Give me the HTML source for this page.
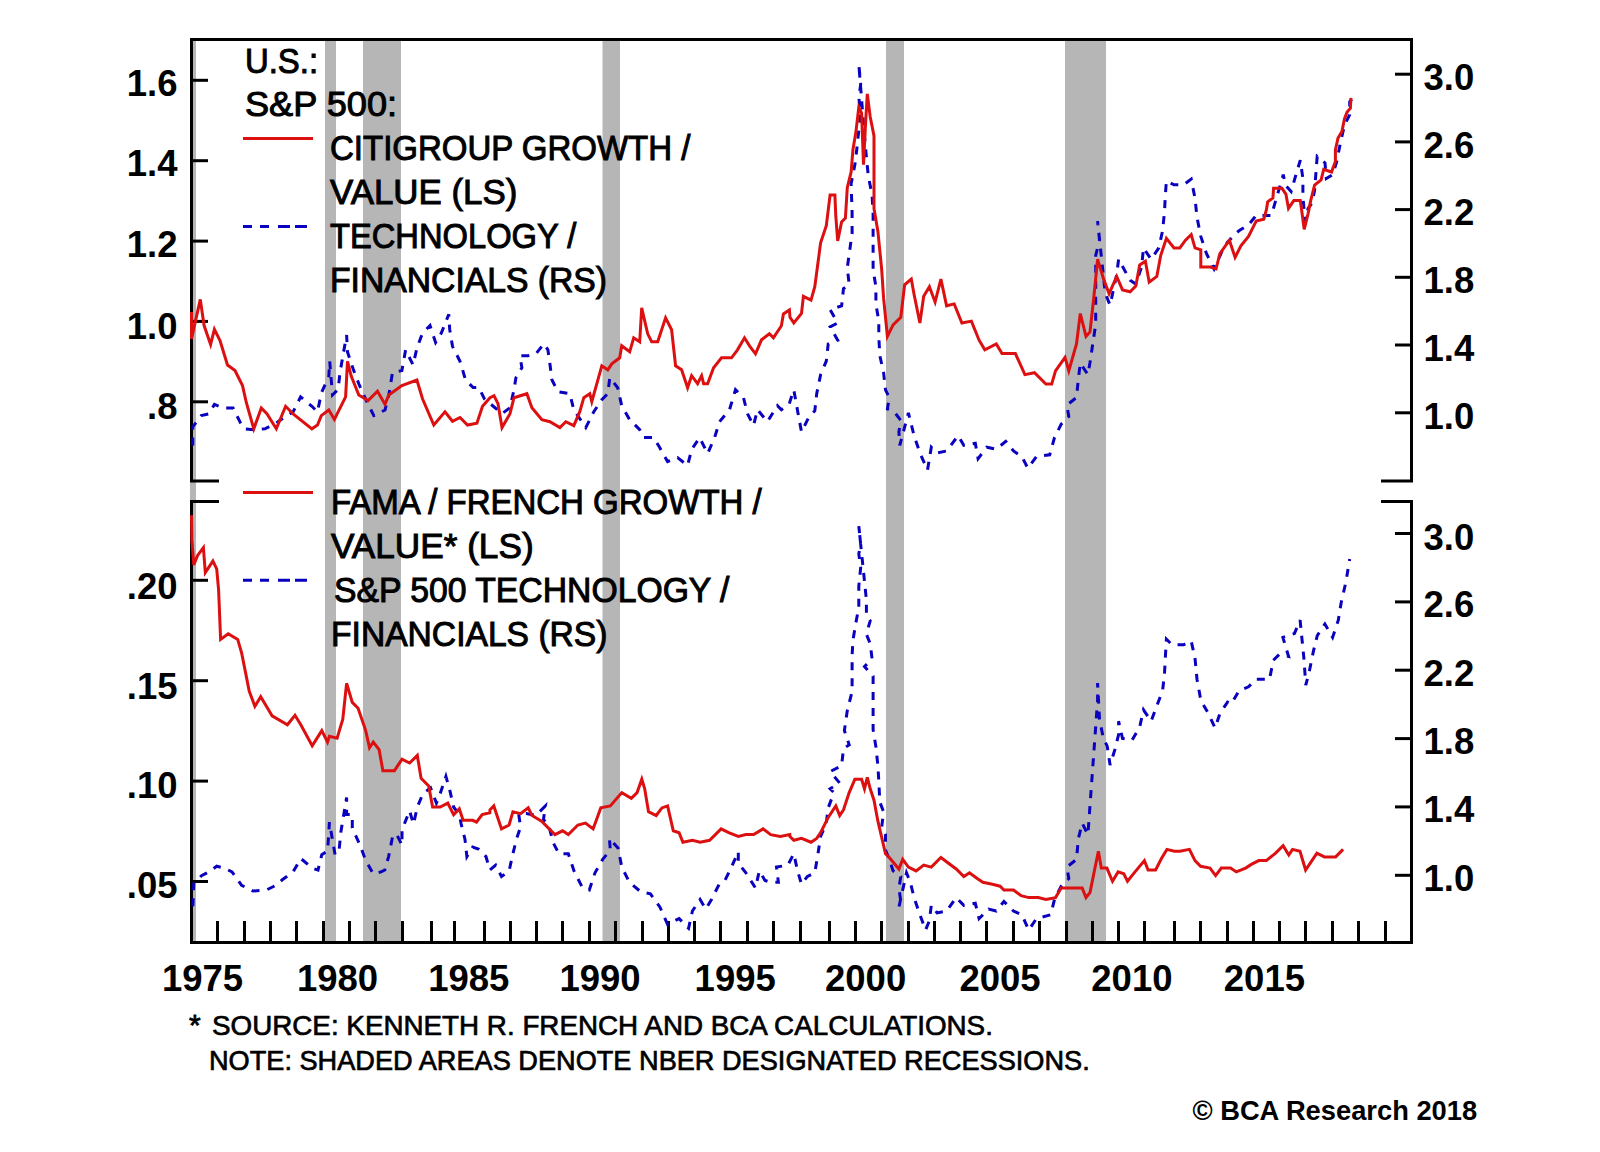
<!DOCTYPE html>
<html><head><meta charset="utf-8"><style>
html,body{margin:0;padding:0;background:#fff;width:1600px;height:1152px;overflow:hidden}
svg{position:absolute;left:0;top:0}
text{font-family:"Liberation Sans",sans-serif;fill:#000}
</style></head><body>
<svg width="1600" height="1152" viewBox="0 0 1600 1152">
<rect x="190" y="40" width="6.0" height="902" fill="#b6b6b6"/>
<rect x="325" y="40" width="11.0" height="902" fill="#b6b6b6"/>
<rect x="363" y="40" width="38.0" height="902" fill="#b6b6b6"/>
<rect x="602.5" y="40" width="17.5" height="902" fill="#b6b6b6"/>
<rect x="886" y="40" width="18.0" height="902" fill="#b6b6b6"/>
<rect x="1065" y="40" width="41.0" height="902" fill="#b6b6b6"/>
<path d="M191.5 481 V39.5 H1411.5 V481" fill="none" stroke="#000" stroke-width="3"/>
<path d="M190 481 H219 M1381 481 H1413" stroke="#000" stroke-width="3"/>
<path d="M191.5 501 V942.5 H1411.5 V501" fill="none" stroke="#000" stroke-width="3"/>
<path d="M190 501.5 H219 M1381 501.5 H1413" stroke="#000" stroke-width="3"/>
<path d="M190 80.3 H208" stroke="#000" stroke-width="3"/>
<path d="M190 160.7 H208" stroke="#000" stroke-width="3"/>
<path d="M190 241.1 H208" stroke="#000" stroke-width="3"/>
<path d="M190 321.4 H208" stroke="#000" stroke-width="3"/>
<path d="M190 401.8 H208" stroke="#000" stroke-width="3"/>
<path d="M190 580.3 H208" stroke="#000" stroke-width="3"/>
<path d="M190 680.7 H208" stroke="#000" stroke-width="3"/>
<path d="M190 781.1 H208" stroke="#000" stroke-width="3"/>
<path d="M190 881.5 H208" stroke="#000" stroke-width="3"/>
<path d="M1395 74.2 H1413" stroke="#000" stroke-width="3"/>
<path d="M1395 141.9 H1413" stroke="#000" stroke-width="3"/>
<path d="M1395 209.6 H1413" stroke="#000" stroke-width="3"/>
<path d="M1395 277.3 H1413" stroke="#000" stroke-width="3"/>
<path d="M1395 345.0 H1413" stroke="#000" stroke-width="3"/>
<path d="M1395 412.8 H1413" stroke="#000" stroke-width="3"/>
<path d="M1395 533.5 H1413" stroke="#000" stroke-width="3"/>
<path d="M1395 601.9 H1413" stroke="#000" stroke-width="3"/>
<path d="M1395 670.2 H1413" stroke="#000" stroke-width="3"/>
<path d="M1395 738.6 H1413" stroke="#000" stroke-width="3"/>
<path d="M1395 806.9 H1413" stroke="#000" stroke-width="3"/>
<path d="M1395 875.3 H1413" stroke="#000" stroke-width="3"/>
<path d="M217.5 921 V942" stroke="#000" stroke-width="3"/>
<path d="M244.5 921 V942" stroke="#000" stroke-width="3"/>
<path d="M270.5 921 V942" stroke="#000" stroke-width="3"/>
<path d="M296.5 921 V942" stroke="#000" stroke-width="3"/>
<path d="M323.5 921 V942" stroke="#000" stroke-width="3"/>
<path d="M349.5 921 V942" stroke="#000" stroke-width="3"/>
<path d="M375.5 921 V942" stroke="#000" stroke-width="3"/>
<path d="M402.5 921 V942" stroke="#000" stroke-width="3"/>
<path d="M431.5 921 V942" stroke="#000" stroke-width="3"/>
<path d="M454.5 921 V942" stroke="#000" stroke-width="3"/>
<path d="M484.5 921 V942" stroke="#000" stroke-width="3"/>
<path d="M510.5 921 V942" stroke="#000" stroke-width="3"/>
<path d="M536.5 921 V942" stroke="#000" stroke-width="3"/>
<path d="M562.5 921 V942" stroke="#000" stroke-width="3"/>
<path d="M589.5 921 V942" stroke="#000" stroke-width="3"/>
<path d="M615.5 921 V942" stroke="#000" stroke-width="3"/>
<path d="M642.5 921 V942" stroke="#000" stroke-width="3"/>
<path d="M668.5 921 V942" stroke="#000" stroke-width="3"/>
<path d="M694.5 921 V942" stroke="#000" stroke-width="3"/>
<path d="M720.5 921 V942" stroke="#000" stroke-width="3"/>
<path d="M747.5 921 V942" stroke="#000" stroke-width="3"/>
<path d="M773.5 921 V942" stroke="#000" stroke-width="3"/>
<path d="M800.5 921 V942" stroke="#000" stroke-width="3"/>
<path d="M829.5 921 V942" stroke="#000" stroke-width="3"/>
<path d="M855.5 921 V942" stroke="#000" stroke-width="3"/>
<path d="M881.5 921 V942" stroke="#000" stroke-width="3"/>
<path d="M908.5 921 V942" stroke="#000" stroke-width="3"/>
<path d="M934.5 921 V942" stroke="#000" stroke-width="3"/>
<path d="M960.5 921 V942" stroke="#000" stroke-width="3"/>
<path d="M986.5 921 V942" stroke="#000" stroke-width="3"/>
<path d="M1013.5 921 V942" stroke="#000" stroke-width="3"/>
<path d="M1039.5 921 V942" stroke="#000" stroke-width="3"/>
<path d="M1066.5 921 V942" stroke="#000" stroke-width="3"/>
<path d="M1092.5 921 V942" stroke="#000" stroke-width="3"/>
<path d="M1118.5 921 V942" stroke="#000" stroke-width="3"/>
<path d="M1144.5 921 V942" stroke="#000" stroke-width="3"/>
<path d="M1174.5 921 V942" stroke="#000" stroke-width="3"/>
<path d="M1200.5 921 V942" stroke="#000" stroke-width="3"/>
<path d="M1227.5 921 V942" stroke="#000" stroke-width="3"/>
<path d="M1253.5 921 V942" stroke="#000" stroke-width="3"/>
<path d="M1279.5 921 V942" stroke="#000" stroke-width="3"/>
<path d="M1305.5 921 V942" stroke="#000" stroke-width="3"/>
<path d="M1332.5 921 V942" stroke="#000" stroke-width="3"/>
<path d="M1358.5 921 V942" stroke="#000" stroke-width="3"/>
<path d="M1385.5 921 V942" stroke="#000" stroke-width="3"/>
<path d="M192.8 445.6 L192.8 426.9 L201.3 415.6 L208.8 413.8 L214.4 404.4 L223.8 408.1 L233.1 408.1 L240.6 423.1 L244.4 428.8 L253.8 429.7 L265.0 428.8 L276.3 423.1 L283.8 417.5 L293.1 411.9 L300.6 396.9 L311.9 406.3 L317.5 411.9 L321.3 393.1 L328.8 376.3 L329.7 361.3 L332.5 395.0 L338.1 389.4 L340.0 372.5 L346.6 335.0 L347.5 351.9 L353.1 368.8 L358.8 383.8 L366.3 400.6 L373.8 415.6 L385.0 410.0 L388.8 395.0 L392.5 372.5 L401.9 370.6 L405.6 350.0 L413.1 365.0 L416.9 348.1 L422.5 333.1 L430.0 325.6 L435.6 342.5 L441.3 333.1 L448.8 314.4 L449.7 329.4 L452.5 346.3 L460.0 361.3 L465.6 380.0 L473.1 387.5 L478.8 387.5 L484.4 398.8 L502.0 413.7 L510.0 407.7 L514.0 389.7 L515.9 377.7 L521.9 367.8 L519.9 355.8 L527.9 355.8 L535.9 353.8 L543.9 343.8 L547.9 349.8 L549.9 363.8 L551.9 379.7 L557.9 391.7 L569.8 393.7 L573.8 409.7 L585.8 427.6 L593.8 411.7 L601.8 399.7 L607.8 393.7 L609.8 377.7 L617.7 387.7 L621.7 405.7 L629.7 419.7 L639.7 429.6 L643.7 437.6 L653.7 437.6 L659.7 447.6 L667.6 461.6 L677.6 457.6 L687.6 465.6 L691.6 449.6 L699.6 437.6 L707.6 453.6 L714.6 437.6 L719.5 421.7 L729.5 409.7 L735.5 389.7 L743.5 397.7 L747.5 413.7 L753.5 425.6 L757.5 409.7 L767.4 421.7 L777.4 405.7 L781.4 409.7 L789.4 403.7 L790.0 401.3 L793.8 389.9 L797.6 410.9 L801.5 431.9 L809.1 416.6 L814.8 410.9 L816.7 393.7 L820.6 374.6 L826.3 361.2 L828.2 344.0 L837.7 340.2 L830.1 326.8 L837.7 323.0 L830.1 309.7 L841.6 305.8 L843.5 288.6 L849.2 284.8 L847.3 267.6 L852.1 233.3 L852.1 212.3 L851.1 183.7 L854.9 164.6 L856.8 149.3 L858.8 130.2 L860.7 113.0 L858.8 97.7 L860.7 84.4 L858.8 64.3 L864.5 135.9 L866.4 157.0 L868.3 176.1 L872.1 195.1 L873.1 214.2 L873.1 233.3 L873.1 250.5 L873.1 269.6 L875.9 286.7 L875.9 303.9 L878.8 321.1 L878.8 336.4 L879.8 355.5 L883.6 372.7 L885.5 389.9 L889.3 397.5 L887.4 409.0 L895.0 412.8 L900.8 420.4 L898.9 431.9 L899.8 445.3 L908.4 412.8 L910.3 420.4 L914.1 435.7 L919.9 452.9 L927.5 470.1 L931.3 447.2 L937.1 452.9 L946.6 451.0 L958.1 435.7 L963.8 445.3 L975.3 443.3 L978.1 458.6 L986.7 447.2 L996.3 449.1 L1005.8 441.4 L1013.5 451.0 L1022.0 456.7 L1027.8 468.2 L1036.4 456.7 L1049.7 454.8 L1054.5 437.6 L1061.2 424.2 L1068.8 416.6 L1066.9 405.1 L1076.5 397.5 L1078.4 378.4 L1080.3 363.1 L1087.9 374.6 L1090.0 362.4 L1095.7 324.2 L1095.7 289.9 L1095.7 255.5 L1099.5 240.2 L1097.6 221.1 L1105.3 293.7 L1110.1 305.1 L1116.7 274.6 L1118.6 259.3 L1130.1 280.3 L1135.8 284.1 L1141.6 267.0 L1143.5 247.9 L1151.1 259.3 L1158.8 247.9 L1162.6 230.7 L1164.5 211.6 L1165.4 194.4 L1166.4 181.0 L1174.0 184.8 L1183.6 184.8 L1191.2 179.1 L1195.0 198.2 L1197.0 217.3 L1200.8 236.4 L1206.5 253.6 L1214.1 268.9 L1221.8 251.7 L1227.5 242.1 L1239.0 230.7 L1248.5 224.9 L1256.2 215.4 L1271.4 215.4 L1283.3 174.6 L1285.3 185.0 L1291.1 191.5 L1296.4 173.3 L1300.3 160.3 L1302.9 178.5 L1302.9 196.7 L1305.2 221.5 L1308.1 208.4 L1312.0 203.2 L1314.6 190.2 L1315.9 173.3 L1317.2 156.4 L1325.0 162.9 L1326.3 178.5 L1332.8 174.6 L1336.7 161.6 L1340.6 142.0 L1344.5 125.1 L1349.7 114.7 L1349.7 101.7 L1353.0 97.8" fill="none" stroke="#0a00c0" stroke-width="3" stroke-dasharray="8 8"/>
<path d="M191.5 312.0 L191.5 338.8 L200.3 299.4 L204.1 325.6 L210.6 344.4 L214.4 329.4 L220.0 340.6 L227.5 365.0 L235.0 370.6 L242.5 385.6 L246.3 402.5 L253.8 428.8 L261.3 408.1 L266.9 413.8 L276.3 428.8 L285.6 406.3 L293.1 413.8 L311.9 428.8 L317.5 425.0 L321.3 415.6 L328.8 410.0 L334.4 419.4 L345.6 396.9 L347.5 361.3 L351.3 376.3 L358.8 395.0 L368.1 400.6 L377.5 391.3 L385.0 404.4 L388.8 395.0 L401.9 385.6 L416.9 380.0 L422.5 398.8 L433.8 425.0 L445.0 411.9 L452.5 421.3 L460.0 417.5 L467.5 425.0 L476.9 423.1 L482.5 406.3 L490.0 397.7 L494.0 395.7 L498.0 403.7 L502.0 427.6 L510.0 413.7 L514.0 397.7 L526.9 393.7 L531.9 407.7 L541.9 419.7 L549.9 421.7 L559.9 427.6 L565.8 421.7 L573.8 425.6 L579.8 411.7 L583.8 397.7 L589.8 393.7 L591.8 401.7 L601.8 365.8 L607.8 369.8 L611.8 363.8 L619.7 357.8 L621.7 345.8 L629.7 351.8 L633.7 337.8 L639.7 341.8 L641.7 307.9 L647.7 333.8 L651.7 341.8 L657.7 341.8 L665.6 317.9 L671.6 329.8 L675.6 365.8 L681.6 369.8 L687.6 387.7 L691.6 375.7 L697.6 383.7 L701.6 375.7 L703.6 383.7 L707.6 383.7 L713.6 367.8 L721.5 357.8 L731.5 357.8 L737.5 349.8 L744.5 337.8 L749.5 345.8 L755.5 353.8 L761.5 339.8 L769.4 333.8 L773.4 337.8 L781.4 325.8 L783.4 313.9 L789.4 309.9 L790.0 317.3 L793.8 323.0 L801.5 313.5 L803.4 296.3 L811.0 300.1 L814.8 286.7 L820.6 242.9 L826.3 225.7 L830.1 195.1 L834.9 195.1 L835.8 216.2 L837.7 241.0 L841.6 221.9 L845.4 218.1 L847.3 187.5 L851.1 172.2 L853.0 149.3 L855.9 132.1 L858.8 107.3 L861.6 113.0 L863.5 164.6 L865.4 126.4 L867.3 93.9 L870.2 116.8 L874.0 135.9 L874.0 208.5 L877.9 231.4 L881.7 269.6 L883.6 298.2 L887.4 336.4 L893.1 324.9 L900.8 317.3 L904.6 284.8 L911.3 279.1 L914.1 294.4 L919.9 323.0 L923.7 296.3 L929.4 286.7 L935.1 302.0 L940.9 279.1 L946.6 305.8 L954.2 303.9 L961.9 323.0 L971.4 321.1 L979.1 340.2 L984.8 349.8 L996.3 344.0 L1002.0 353.6 L1015.4 353.6 L1024.9 374.6 L1034.5 372.7 L1045.9 384.1 L1051.7 384.1 L1055.5 370.8 L1065.0 357.4 L1068.8 370.8 L1076.5 344.0 L1080.3 313.5 L1086.0 336.4 L1090.0 331.9 L1093.8 297.5 L1097.6 259.3 L1103.4 278.4 L1109.1 293.7 L1116.7 276.5 L1122.5 289.9 L1130.1 291.8 L1135.8 286.1 L1139.7 265.0 L1145.4 261.2 L1149.2 282.2 L1156.8 276.5 L1160.7 255.5 L1166.4 238.3 L1174.0 247.9 L1179.8 247.9 L1185.5 240.2 L1191.2 234.5 L1195.0 247.9 L1200.8 249.8 L1200.8 267.0 L1210.3 267.0 L1216.1 268.9 L1219.9 253.6 L1229.4 240.2 L1235.1 257.4 L1240.9 245.9 L1248.5 236.4 L1252.3 228.8 L1256.2 221.1 L1263.8 219.2 L1266.4 209.7 L1267.7 201.9 L1272.9 198.0 L1273.6 188.3 L1282.0 188.3 L1285.9 194.1 L1288.5 208.4 L1293.8 200.6 L1300.3 200.6 L1301.6 209.7 L1304.2 229.3 L1308.1 213.6 L1310.7 200.6 L1314.6 185.0 L1321.1 179.8 L1323.7 169.4 L1331.5 172.0 L1335.4 161.6 L1335.4 149.8 L1338.0 138.1 L1341.9 131.6 L1344.5 118.6 L1347.1 112.1 L1350.4 108.2 L1351.0 97.8" fill="none" stroke="#dc1010" stroke-width="3"/>
<path d="M192.9 906.3 L193.8 883.3 L201.5 875.7 L209.1 871.9 L216.7 866.2 L224.4 868.1 L232.0 871.9 L241.6 885.3 L253.0 891.0 L266.4 890.0 L275.9 885.3 L282.6 879.5 L293.1 871.9 L300.8 858.5 L312.2 868.1 L318.0 870.0 L321.8 854.7 L327.5 850.9 L328.5 837.5 L329.4 822.2 L335.1 854.7 L339.0 850.9 L340.9 831.8 L346.6 797.4 L346.6 814.6 L352.3 814.6 L352.3 828.0 L360.0 845.1 L365.7 860.4 L373.3 873.8 L381.0 871.9 L384.8 870.0 L388.6 856.6 L392.4 837.5 L396.3 833.7 L402.0 845.1 L402.0 829.9 L409.6 810.8 L413.5 824.1 L417.3 807.0 L423.0 793.6 L430.6 787.9 L436.4 803.1 L440.2 793.6 L445.9 776.4 L449.7 789.8 L453.6 807.0 L459.3 814.6 L461.2 824.1 L465.0 839.4 L466.9 856.6 L472.7 847.1 L478.4 849.0 L486.0 856.6 L489.8 870.0 L495.7 865.1 L501.5 876.6 L509.1 870.9 L512.9 853.7 L516.7 838.4 L520.6 827.0 L518.6 813.6 L526.3 813.6 L535.8 815.5 L545.4 805.9 L543.5 819.3 L549.2 827.0 L553.0 842.2 L558.8 853.7 L568.3 853.7 L574.0 870.9 L581.7 886.2 L589.3 890.0 L595.0 872.8 L602.7 859.4 L610.3 849.9 L609.4 838.4 L618.0 848.0 L621.8 867.1 L629.4 882.3 L640.9 891.9 L650.4 893.8 L660.0 907.2 L667.6 924.4 L679.1 918.6 L688.6 928.2 L692.4 911.0 L700.1 899.5 L705.8 909.1 L711.5 899.5 L719.2 884.2 L724.9 880.4 L730.6 869.0 L738.3 851.8 L738.3 863.2 L745.9 872.8 L755.5 888.1 L759.3 870.9 L765.0 880.4 L770.7 882.3 L778.4 882.3 L776.5 867.1 L787.9 865.1 L793.8 853.7 L797.6 870.9 L801.5 884.2 L807.2 876.6 L814.8 872.8 L817.7 855.6 L820.6 836.5 L826.3 823.1 L828.2 807.9 L833.9 792.6 L830.1 788.8 L839.7 783.0 L830.1 771.6 L841.6 765.8 L843.5 748.6 L849.2 744.8 L844.4 730.5 L847.3 710.5 L852.1 691.4 L852.1 672.3 L852.1 655.1 L853.0 639.9 L855.9 622.7 L858.8 607.4 L858.8 586.4 L860.7 567.3 L858.8 553.9 L860.7 544.4 L858.8 526.2 L866.4 599.8 L866.4 615.0 L870.2 620.8 L866.4 634.1 L870.2 643.7 L872.1 659.0 L864.5 666.6 L873.1 676.2 L873.1 693.3 L873.1 710.5 L873.1 729.6 L875.9 746.7 L877.9 765.8 L878.8 781.1 L879.8 802.1 L883.6 811.7 L881.7 827.0 L885.5 834.6 L885.5 849.9 L889.3 859.4 L893.1 870.9 L900.8 876.6 L898.9 888.1 L900.8 901.4 L898.9 907.2 L906.5 872.8 L910.3 882.3 L914.1 897.6 L919.9 914.8 L925.6 930.1 L929.4 920.5 L931.3 905.3 L937.1 912.9 L946.6 911.0 L956.2 897.6 L963.8 905.3 L975.3 903.3 L979.1 918.6 L988.6 909.1 L996.3 911.0 L1003.9 901.4 L1013.5 911.0 L1022.0 914.8 L1028.7 930.1 L1036.4 918.6 L1050.7 914.8 L1054.5 899.5 L1061.2 886.2 L1068.8 878.5 L1066.9 867.1 L1076.5 859.4 L1078.4 838.4 L1082.2 823.1 L1087.9 834.6 L1097.6 700.2 L1097.6 683.0 L1099.5 719.3 L1103.4 738.4 L1107.2 746.1 L1110.1 765.1 L1114.8 749.9 L1118.6 734.6 L1118.6 721.2 L1122.5 738.4 L1132.0 740.3 L1139.7 727.0 L1143.5 709.8 L1151.1 721.2 L1156.8 705.9 L1162.6 690.7 L1164.5 673.5 L1165.4 656.3 L1166.4 639.1 L1172.1 644.8 L1183.6 644.8 L1191.2 641.0 L1195.0 658.2 L1197.0 679.2 L1200.8 700.2 L1208.4 713.6 L1215.1 727.9 L1219.9 713.6 L1227.5 702.1 L1231.3 704.0 L1239.0 690.7 L1248.5 686.8 L1256.2 679.2 L1269.5 679.2 L1273.3 660.3 L1279.1 654.6 L1288.6 656.5 L1282.9 637.4 L1294.4 633.6 L1300.1 620.2 L1302.0 639.3 L1303.9 658.4 L1305.8 685.1 L1309.6 669.9 L1313.5 650.8 L1317.3 635.5 L1324.9 624.0 L1332.6 637.4 L1338.3 620.2 L1341.1 603.0 L1345.9 582.0 L1349.7 559.1" fill="none" stroke="#0a00c0" stroke-width="3" stroke-dasharray="8 8"/>
<path d="M191.5 515.3 L191.9 540.1 L193.8 564.9 L197.6 555.4 L203.4 547.7 L205.3 572.6 L212.9 561.1 L216.7 568.8 L218.6 589.8 L220.6 639.4 L228.2 633.7 L237.7 639.4 L241.6 652.8 L245.4 671.9 L249.2 691.0 L254.9 706.3 L260.7 696.7 L266.4 706.3 L272.1 715.8 L287.4 724.8 L295.0 715.3 L300.8 724.8 L312.2 745.8 L321.8 730.6 L327.5 742.0 L329.4 736.3 L337.1 738.2 L342.8 719.1 L346.6 683.3 L352.3 702.4 L358.1 708.2 L365.7 730.6 L369.5 747.7 L373.3 742.0 L379.1 749.7 L382.9 770.7 L394.4 770.7 L402.0 759.2 L409.6 763.0 L417.3 755.4 L421.1 778.3 L428.7 785.9 L432.6 807.0 L440.2 807.0 L447.8 803.1 L453.6 814.6 L459.3 808.9 L463.1 820.3 L472.7 820.3 L476.5 822.2 L482.2 814.6 L489.8 812.7 L490.0 809.8 L493.8 805.9 L501.5 828.9 L509.1 825.0 L512.9 811.7 L520.6 813.6 L528.2 807.9 L532.0 815.5 L541.6 821.2 L554.9 834.6 L562.6 830.8 L568.3 834.6 L577.9 825.0 L585.5 823.1 L593.1 828.9 L600.8 807.9 L610.3 805.9 L621.8 792.6 L631.3 798.3 L637.1 792.6 L641.8 779.2 L644.7 788.8 L648.5 811.7 L656.2 815.5 L661.9 807.9 L667.6 805.9 L673.3 830.8 L679.1 832.7 L682.9 842.2 L692.4 840.3 L700.1 842.2 L709.6 840.3 L721.1 828.9 L728.7 832.7 L738.3 836.5 L745.9 834.6 L753.6 834.6 L763.1 828.9 L770.7 834.6 L780.3 836.5 L789.8 834.6 L790.0 836.5 L793.8 840.3 L801.5 838.4 L811.0 842.2 L816.7 838.4 L820.6 832.7 L828.2 817.4 L835.8 805.9 L839.7 815.5 L843.5 809.8 L849.2 792.6 L854.9 779.2 L861.6 779.2 L864.5 788.8 L867.3 777.3 L870.2 788.8 L874.0 800.2 L877.9 821.2 L885.5 853.7 L889.3 857.5 L898.9 869.0 L902.7 859.4 L908.4 867.1 L916.1 870.9 L923.7 865.1 L931.3 867.1 L940.9 857.5 L948.5 863.2 L956.2 869.0 L963.8 876.6 L969.5 872.8 L977.2 878.5 L982.9 882.3 L992.4 884.2 L1000.1 886.2 L1003.9 890.0 L1013.5 890.0 L1021.1 895.7 L1028.7 897.6 L1038.3 897.6 L1045.9 899.5 L1055.5 897.6 L1061.2 888.1 L1068.8 888.1 L1082.2 888.1 L1086.0 897.6 L1090.0 892.5 L1093.8 873.8 L1098.4 851.3 L1101.3 868.1 L1106.9 868.1 L1112.5 881.3 L1118.1 871.9 L1123.8 873.8 L1127.5 881.3 L1135.0 871.9 L1144.4 860.6 L1148.1 870.0 L1155.6 870.0 L1161.3 858.8 L1166.9 849.4 L1174.4 851.3 L1180.0 851.3 L1189.4 849.4 L1195.0 860.6 L1200.6 866.3 L1210.0 868.1 L1215.6 875.6 L1221.3 868.1 L1230.6 868.1 L1236.3 871.9 L1245.6 868.1 L1251.3 864.4 L1258.8 860.6 L1266.3 860.6 L1275.6 853.1 L1283.1 845.6 L1288.8 855.0 L1292.5 849.4 L1300.0 851.3 L1305.6 870.0 L1313.1 858.8 L1316.9 853.1 L1324.4 856.9 L1335.6 856.9 L1343.1 849.4" fill="none" stroke="#dc1010" stroke-width="3"/>
<path d="M243 138.5 H313" stroke="#dc1010" stroke-width="3"/>
<path d="M243 492.5 H313" stroke="#dc1010" stroke-width="3"/>
<path d="M243 226.5 H252 M260 226.5 H269 M278 226.5 H290 M295 226.5 H307" stroke="#0a00c0" stroke-width="3"/>
<path d="M243 580.3 H252 M260 580.3 H269 M278 580.3 H290 M295 580.3 H307" stroke="#0a00c0" stroke-width="3"/>
<text x="177.5" y="96.4" font-size="36.5" font-weight="bold" text-anchor="end">1.6</text>
<text x="177.5" y="175.5" font-size="36.5" font-weight="bold" text-anchor="end">1.4</text>
<text x="177.5" y="256.8" font-size="36.5" font-weight="bold" text-anchor="end">1.2</text>
<text x="177.5" y="339" font-size="36.5" font-weight="bold" text-anchor="end">1.0</text>
<text x="177.5" y="418.5" font-size="36.5" font-weight="bold" text-anchor="end">.8</text>
<text x="177.5" y="599" font-size="36.5" font-weight="bold" text-anchor="end">.20</text>
<text x="177.5" y="699" font-size="36.5" font-weight="bold" text-anchor="end">.15</text>
<text x="177.5" y="797.8" font-size="36.5" font-weight="bold" text-anchor="end">.10</text>
<text x="177.5" y="898" font-size="36.5" font-weight="bold" text-anchor="end">.05</text>
<text x="1423.5" y="90.3" font-size="36.5" font-weight="bold" text-anchor="start">3.0</text>
<text x="1423.5" y="157.5" font-size="36.5" font-weight="bold" text-anchor="start">2.6</text>
<text x="1423.5" y="224.5" font-size="36.5" font-weight="bold" text-anchor="start">2.2</text>
<text x="1423.5" y="293" font-size="36.5" font-weight="bold" text-anchor="start">1.8</text>
<text x="1423.5" y="361" font-size="36.5" font-weight="bold" text-anchor="start">1.4</text>
<text x="1423.5" y="428.5" font-size="36.5" font-weight="bold" text-anchor="start">1.0</text>
<text x="1423.5" y="549.5" font-size="36.5" font-weight="bold" text-anchor="start">3.0</text>
<text x="1423.5" y="617" font-size="36.5" font-weight="bold" text-anchor="start">2.6</text>
<text x="1423.5" y="686" font-size="36.5" font-weight="bold" text-anchor="start">2.2</text>
<text x="1423.5" y="754" font-size="36.5" font-weight="bold" text-anchor="start">1.8</text>
<text x="1423.5" y="822" font-size="36.5" font-weight="bold" text-anchor="start">1.4</text>
<text x="1423.5" y="891" font-size="36.5" font-weight="bold" text-anchor="start">1.0</text>
<text x="202.5" y="990.5" font-size="36.5" font-weight="bold" text-anchor="middle">1975</text>
<text x="337.5" y="990.5" font-size="36.5" font-weight="bold" text-anchor="middle">1980</text>
<text x="468.75" y="990.5" font-size="36.5" font-weight="bold" text-anchor="middle">1985</text>
<text x="600" y="990.5" font-size="36.5" font-weight="bold" text-anchor="middle">1990</text>
<text x="735.2" y="990.5" font-size="36.5" font-weight="bold" text-anchor="middle">1995</text>
<text x="865.6" y="990.5" font-size="36.5" font-weight="bold" text-anchor="middle">2000</text>
<text x="1000" y="990.5" font-size="36.5" font-weight="bold" text-anchor="middle">2005</text>
<text x="1131.9" y="990.5" font-size="36.5" font-weight="bold" text-anchor="middle">2010</text>
<text x="1264.4" y="990.5" font-size="36.5" font-weight="bold" text-anchor="middle">2015</text>
<text x="245" y="72.8" font-size="35" font-weight="normal" text-anchor="start" stroke="#000" stroke-width="1.0" transform="translate(245 72.8) scale(0.94 1) translate(-245 -72.8)">U.S.:</text>
<text x="245" y="116.5" font-size="35" font-weight="normal" text-anchor="start" stroke="#000" stroke-width="1.0" transform="translate(245 116.5) scale(1.034 1) translate(-245 -116.5)">S&amp;P 500:</text>
<text x="330" y="160.3" font-size="35" font-weight="normal" text-anchor="start" stroke="#000" stroke-width="1.0" transform="translate(330 160.3) scale(0.943 1) translate(-330 -160.3)">CITIGROUP GROWTH /</text>
<text x="330" y="204" font-size="35" font-weight="normal" text-anchor="start" stroke="#000" stroke-width="1.0" transform="translate(330 204) scale(0.997 1) translate(-330 -204)">VALUE (LS)</text>
<text x="330" y="247.8" font-size="35" font-weight="normal" text-anchor="start" stroke="#000" stroke-width="1.0" transform="translate(330 247.8) scale(0.934 1) translate(-330 -247.8)">TECHNOLOGY /</text>
<text x="330" y="291.6" font-size="35" font-weight="normal" text-anchor="start" stroke="#000" stroke-width="1.0" transform="translate(330 291.6) scale(0.963 1) translate(-330 -291.6)">FINANCIALS (RS)</text>
<text x="331" y="514" font-size="35" font-weight="normal" text-anchor="start" stroke="#000" stroke-width="1.0" transform="translate(331 514) scale(0.943 1) translate(-331 -514)">FAMA / FRENCH GROWTH /</text>
<text x="331" y="558" font-size="35" font-weight="normal" text-anchor="start" stroke="#000" stroke-width="1.0" transform="translate(331 558) scale(1.005 1) translate(-331 -558)">VALUE* (LS)</text>
<text x="334" y="602" font-size="35" font-weight="normal" text-anchor="start" stroke="#000" stroke-width="1.0" transform="translate(334 602) scale(0.964 1) translate(-334 -602)">S&amp;P 500 TECHNOLOGY /</text>
<text x="331" y="646" font-size="35" font-weight="normal" text-anchor="start" stroke="#000" stroke-width="1.0" transform="translate(331 646) scale(0.961 1) translate(-331 -646)">FINANCIALS (RS)</text>
<text x="189" y="1035" font-size="30" font-weight="normal" text-anchor="start" stroke="#000" stroke-width="0.8">*</text>
<text x="212" y="1034.8" font-size="28" font-weight="normal" text-anchor="start" stroke="#000" stroke-width="0.7" transform="translate(212 1034.8) scale(0.993 1) translate(-212 -1034.8)">SOURCE: KENNETH R. FRENCH AND BCA CALCULATIONS.</text>
<text x="209" y="1069.9" font-size="28" font-weight="normal" text-anchor="start" stroke="#000" stroke-width="0.7" transform="translate(209 1069.9) scale(0.97 1) translate(-209 -1069.9)">NOTE: SHADED AREAS DENOTE NBER DESIGNATED RECESSIONS.</text>
<text x="1192.5" y="1119.5" font-size="27.3" font-weight="bold" text-anchor="start">© BCA Research 2018</text>
</svg>
</body></html>
